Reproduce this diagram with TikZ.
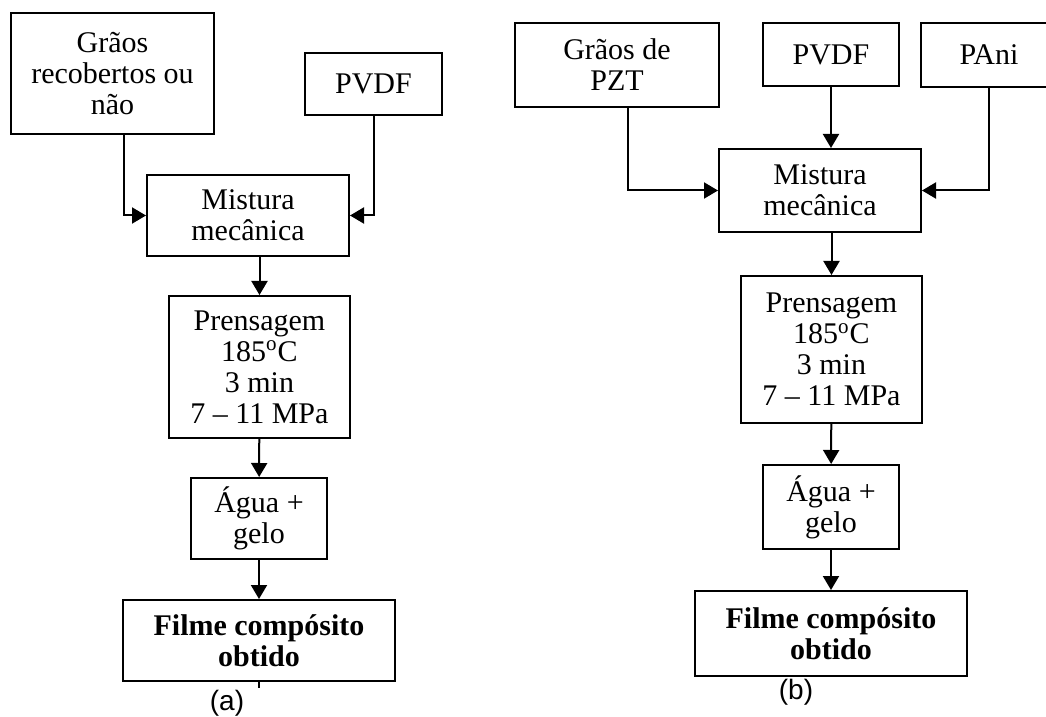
\documentclass[tikz,border=0pt]{standalone}
\usepackage{fontspec}
\setmainfont{Liberation Serif}
\newfontfamily\labelfont{Liberation Sans}
\usetikzlibrary{
  arrows.meta,
  chains,
  scopes,
  positioning
}

\begin{document}
\begin{tikzpicture}[
      x=0.5pt,y=-0.5pt,
      stepbox/.style={
         rectangle,
         draw=black,
         line width=1pt,
         inner sep=0pt,
         align=center,
         font=\fontsize{15}{15.5}\selectfont,
      },
      resultbox/.style={
         stepbox,
         font=\fontsize{15}{15.5}\selectfont\bfseries,
      },
      caption/.style={font=\labelfont\fontsize{14}{16}\selectfont},
      >={Triangle[length=7pt,width=8pt]},line width=1pt,
      tip/.style={->},
      vh path/.style={to path={|- (\tikztotarget)}},
    ]
    \useasboundingbox (0,0) rectangle (1046,717);
    % (a)
    \node (g1)    [stepbox, minimum width=101.5pt, minimum height=60.5pt] at (112.5,73.5) {Grãos\\recobertos ou\\não};
    \node (pvdf1) [stepbox, minimum width=68.5pt, minimum height=31pt] at (373.5,84) {PVDF};
    \node (mix1)  [stepbox, minimum width=101pt, minimum height=40.5pt] at (248,215.5) {Mistura\\mecânica};
    \node (pren1) [stepbox, minimum width=90.5pt, minimum height=71pt] at (259.5,367) {Prensagem\\185\textsuperscript{o}C\\3 min\\7 -- 11 MPa};
    \node (agua1) [stepbox, minimum width=68pt, minimum height=40.5pt] at (259,518.5) {Água +\\gelo};
    \node (film1) [resultbox, minimum width=136pt, minimum height=40.5pt] at (259,640.5) {Filme compósito\\obtido};
    \coordinate (tick1) at (259,688);
    \node (capa)  [caption] at (227,703) {(a)};
    % (b)
    \node (g2)    [stepbox, minimum width=102pt, minimum height=42pt] at (617,65) {Grãos de\\PZT};
    \node (pvdf2) [stepbox, minimum width=68pt, minimum height=31.5pt] at (831,54.5) {PVDF};
    \node (pani)  [stepbox, minimum width=68pt, minimum height=32pt] at (989,55) {PAni};
    \node (mix2)  [stepbox, minimum width=101pt, minimum height=41.5pt] at (820,190.5) {Mistura\\mecânica};
    \node (pren2) [stepbox, minimum width=90.5pt, minimum height=73.5pt] at (831.5,349.5) {Prensagem\\185\textsuperscript{o}C\\3 min\\7 -- 11 MPa};
    \node (agua2) [stepbox, minimum width=68pt, minimum height=42pt] at (831,507) {Água +\\gelo};
    \node (film2) [resultbox, minimum width=136pt, minimum height=42.5pt] at (831,633.5) {Filme compósito\\obtido};
    \node (capb)  [caption] at (796,692) {(b)};

    \draw[tip] ([xshift=5.75pt]g1.south) to[vh path] (mix1);
    \draw[tip] (pvdf1) to[vh path] (mix1);
    \draw[tip] (mix1.south -| pren1.north) -- (pren1.north);
  { [start chain]
       \chainin (pren1);
       \chainin (agua1)    [join=by tip];
       \chainin (film1)    [join=by tip];
  }
    \draw (film1.south) -- (tick1);

    \draw[tip] ([xshift=5.5pt]g2.south) to[vh path] (mix2);
    \draw[tip] (pani) to[vh path] (mix2);
    \draw[tip] (pvdf2) -- (pvdf2 |- mix2.north);
    \draw[tip] (mix2.south -| pren2.north) -- (pren2.north);
  { [start chain]
       \chainin (pren2);
       \chainin (agua2)    [join=by tip];
       \chainin (film2)    [join=by tip];
  }
\end{tikzpicture}
\end{document}
